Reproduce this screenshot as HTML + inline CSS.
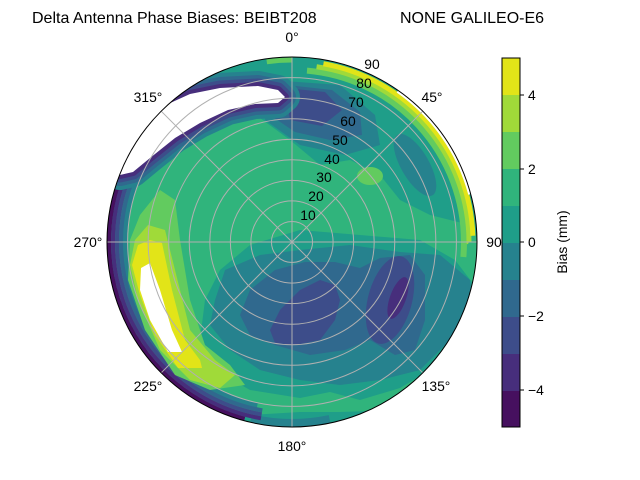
<!DOCTYPE html>
<html><head><meta charset="utf-8"><style>
body{margin:0;background:#fff}
svg{display:block;font-family:"Liberation Sans",sans-serif}
</style></head><body>
<svg width="640" height="480" viewBox="0 0 640 480" xmlns="http://www.w3.org/2000/svg">
<defs><clipPath id="cp"><circle cx="292" cy="242" r="185"/></clipPath></defs>
<text x="32" y="23" font-size="16">Delta Antenna Phase Biases: BEIBT208</text>
<text x="400" y="23" font-size="16">NONE GALILEO-E6</text>
<g clip-path="url(#cp)">
<rect x="100" y="50" width="390" height="390" fill="#1f9e89"/>
<polygon fill="#30b47c" points="150,150 200,125 260,118 290,140 320,165 350,160 380,175 400,200 430,215 470,225 478,240 478,290 455,260 420,240 360,235 300,230 250,245 220,270 205,300 200,340 215,370 250,390 300,398 330,392 360,400 400,388 430,370 440,380 400,410 340,412 300,412 250,415 160,400 120,320 112,250 125,190"/>
<polygon fill="#26828e" points="215,300 225,270 260,255 300,250 350,245 400,252 440,255 470,280 475,320 450,340 420,370 380,380 340,385 300,380 260,370 230,350 210,325"/>
<polygon fill="#30698e" points="240,315 250,290 275,270 305,262 335,262 360,268 380,258 410,255 425,275 425,320 415,350 395,355 370,340 345,350 310,355 275,345 250,335"/>
<polygon fill="#3d4d8a" points="270,330 280,310 300,290 320,280 335,285 340,300 335,320 320,340 295,345 275,343"/>
<ellipse cx="390" cy="300" rx="22" ry="45" transform="rotate(15 390 300)" fill="#3d4d8a"/>
<ellipse cx="398" cy="298" rx="8" ry="22" transform="rotate(20 398 298)" fill="#472e7c"/>
<ellipse cx="415" cy="165" rx="14" ry="35" transform="rotate(-30 415 165)" fill="#26828e"/>
<ellipse cx="370" cy="176" rx="13" ry="9" fill="#62cb5f"/>
<polygon fill="#26828e" points="270,80 340,85 375,115 380,145 345,155 300,145 265,120"/>
<polygon fill="#30698e" points="278,84 332,90 360,112 362,135 330,140 295,132 270,115"/>
<polygon fill="#3d4d8a" points="285,88 325,92 342,110 322,126 290,120"/>
<g transform="rotate(-90 292 242)" fill="none">
<circle cx="292" cy="242" r="182" pathLength="360" stroke="#26828e" stroke-width="10" stroke-dasharray="0 168 25 360"/>
<circle cx="292" cy="242" r="167" pathLength="360" stroke="#26828e" stroke-width="5" stroke-dasharray="0 192 108 360"/>
<circle cx="292" cy="242" r="171" pathLength="360" stroke="#30698e" stroke-width="4" stroke-dasharray="0 190 110 360"/>
<circle cx="292" cy="242" r="175" pathLength="360" stroke="#3d4d8a" stroke-width="4" stroke-dasharray="0 190 110 360"/>
<circle cx="292" cy="242" r="179" pathLength="360" stroke="#472e7c" stroke-width="4" stroke-dasharray="0 190 110 360"/>
<circle cx="292" cy="242" r="183" pathLength="360" stroke="#46105f" stroke-width="4" stroke-dasharray="0 195 95 360"/>
<circle cx="292" cy="242" r="172" pathLength="360" stroke="#62cb5f" stroke-width="6" stroke-dasharray="0 5 90 360"/>
<circle cx="292" cy="242" r="177" pathLength="360" stroke="#a0da39" stroke-width="5" stroke-dasharray="0 8 82 360"/>
<circle cx="292" cy="242" r="181" pathLength="360" stroke="#e2e418" stroke-width="5" stroke-dasharray="0 10 78 360"/>
<circle cx="292" cy="242" r="186" pathLength="360" stroke="#fff" stroke-width="7" stroke-dasharray="0 35 40 360"/>
<circle cx="292" cy="242" r="182" pathLength="360" stroke="#62cb5f" stroke-width="5" stroke-dasharray="0 352 10 360"/>
</g>
<g stroke-linejoin="round">
<polygon points="168,104 190,94 220,88 258,86 278,90 285,97 278,103 255,104 228,110 200,123 175,138 150,158 133,172 120,175 100,160 100,104" fill="#26828e" stroke="#26828e" stroke-width="30"/>
<polygon points="168,104 190,94 220,88 258,86 278,90 285,97 278,103 255,104 228,110 200,123 175,138 150,158 133,172 120,175 100,160 100,104" fill="#30698e" stroke="#30698e" stroke-width="22"/>
<polygon points="168,104 190,94 220,88 258,86 278,90 285,97 278,103 255,104 228,110 200,123 175,138 150,158 133,172 120,175 100,160 100,104" fill="#3d4d8a" stroke="#3d4d8a" stroke-width="15"/>
<polygon points="168,104 190,94 220,88 258,86 278,90 285,97 278,103 255,104 228,110 200,123 175,138 150,158 133,172 120,175 100,160 100,104" fill="#472e7c" stroke="#472e7c" stroke-width="8"/>
<polygon points="168,104 190,94 220,88 258,86 278,90 285,97 278,103 255,104 228,110 200,123 175,138 150,158 133,172 120,175 100,160 100,104" fill="#fff"/>
</g>
<polygon fill="#62cb5f" points="140,215 160,190 175,200 180,240 190,300 205,345 230,365 245,385 210,390 175,375 145,330 128,280 130,240"/>
<polygon fill="#a0da39" points="135,240 148,225 165,230 175,270 190,330 215,360 235,375 220,388 190,380 160,350 138,300 130,265"/>
<polygon fill="#e2e418" points="138,245 150,240 162,243 172,290 185,340 200,360 202,368 178,368 155,335 140,295 132,265"/>
<polygon fill="#fff" points="141,268 150,263 160,290 172,330 182,352 168,352 150,320 140,290"/>
</g>
<g fill="none" stroke="#b0b0b0" stroke-width="1">
<circle cx="292" cy="242" r="20.55"/><circle cx="292" cy="242" r="41.1"/><circle cx="292" cy="242" r="61.65"/>
<circle cx="292" cy="242" r="82.2"/><circle cx="292" cy="242" r="102.75"/><circle cx="292" cy="242" r="123.3"/>
<circle cx="292" cy="242" r="143.85"/><circle cx="292" cy="242" r="164.4"/>
<line x1="292" y1="57" x2="292" y2="427"/><line x1="107" y1="242" x2="477" y2="242"/>
<line x1="161.2" y1="111.2" x2="422.8" y2="372.8"/><line x1="422.8" y1="111.2" x2="161.2" y2="372.8"/>
</g>
<circle cx="292" cy="242" r="185" fill="none" stroke="#000" stroke-width="1"/>
<g font-size="13.9" text-anchor="middle">
<text x="292" y="42">0°</text>
<text x="432" y="102">45°</text>
<text x="494" y="247">90</text>
<text x="436" y="391">135°</text>
<text x="292" y="451">180°</text>
<text x="148" y="391">225°</text>
<text x="88" y="247">270°</text>
<text x="148" y="102">315°</text>
</g>
<g font-size="13.9" text-anchor="middle">
<text x="308" y="220">10</text><text x="316" y="201">20</text><text x="324" y="182">30</text>
<text x="332" y="164">40</text><text x="340" y="145">50</text><text x="348" y="126">60</text>
<text x="356" y="107">70</text><text x="364" y="88">80</text><text x="372" y="69">90</text>
</g>
<g>
<rect x="502" y="58" width="18" height="37" fill="#e2e418"/>
<rect x="502" y="95" width="18" height="37" fill="#a0da39"/>
<rect x="502" y="132" width="18" height="37" fill="#62cb5f"/>
<rect x="502" y="169" width="18" height="37" fill="#30b47c"/>
<rect x="502" y="206" width="18" height="37" fill="#1f9e89"/>
<rect x="502" y="243" width="18" height="37" fill="#26828e"/>
<rect x="502" y="280" width="18" height="37" fill="#30698e"/>
<rect x="502" y="317" width="18" height="37" fill="#3d4d8a"/>
<rect x="502" y="354" width="18" height="37" fill="#472e7c"/>
<rect x="502" y="391" width="18" height="36" fill="#46105f"/>
<rect x="502" y="58" width="18" height="369" fill="none" stroke="#000" stroke-width="1"/>
<g stroke="#000"><line x1="520" y1="95" x2="524" y2="95"/><line x1="520" y1="169" x2="524" y2="169"/><line x1="520" y1="242" x2="524" y2="242"/><line x1="520" y1="316" x2="524" y2="316"/><line x1="520" y1="390" x2="524" y2="390"/></g>
<g font-size="13.9"><text x="528" y="100">4</text><text x="528" y="174">2</text><text x="528" y="247">0</text><text x="528" y="321">−2</text><text x="528" y="395">−4</text></g>
<text x="567" y="242" font-size="13.9" text-anchor="middle" transform="rotate(-90 567 242)">Bias (mm)</text>
</g>
</svg>
</body></html>
